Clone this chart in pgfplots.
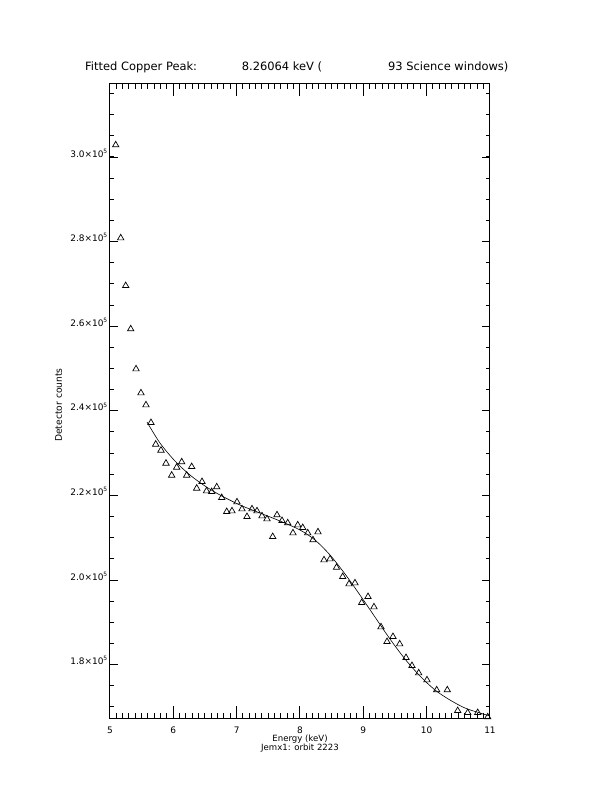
\documentclass[border=0pt]{standalone}
\usepackage{fontspec}
\setmainfont{DejaVu Sans}
\usepackage{pgfplots}
\pgfplotsset{compat=1.18}
\begin{document}
\begin{tikzpicture}
\path (-110bp,-74bp) rectangle (502bp,718bp);
\begin{axis}[at={(0bp,0bp)}, anchor=south west, scale only axis,
  width=380bp, height=634bp,
  xmin=5, xmax=11, ymin=1.6738, ymax=3.1726,
  xtick={5,6,7,8,9,10,11}, xticklabels={5,6,7,8,9,10,11},
  ytick={1.8,2.0,2.2,2.4,2.6,2.8,3.0},
  yticklabels={1.8×10\textsuperscript{5},2.0×10\textsuperscript{5},2.2×10\textsuperscript{5},2.4×10\textsuperscript{5},2.6×10\textsuperscript{5},2.8×10\textsuperscript{5},3.0×10\textsuperscript{5}},
  major tick length=0pt, minor tick num=0,
  axis line style={line width=1bp},
  xticklabel style={font=\fontsize{9}{10}\selectfont, anchor=north, inner sep=0pt, yshift=-9bp},
  yticklabel style={font=\fontsize{9}{10}\selectfont, anchor=base east, inner sep=0pt, xshift=-2bp},
  clip=false,
]
% tick marks (axis decoration)
\pgfplotsinvokeforeach{5.1,5.2,...,10.95}{
  \draw[line width=1bp] (axis cs:#1,1.6738) -- ++(0bp,5bp);
  \draw[line width=1bp] (axis cs:#1,3.1726) -- ++(0bp,-5bp);
}
\pgfplotsinvokeforeach{5,6,...,11}{
  \draw[line width=1bp] (axis cs:#1,1.6738) -- ++(0bp,12bp);
  \draw[line width=1bp] (axis cs:#1,3.1726) -- ++(0bp,-12bp);
}
\pgfplotsinvokeforeach{1.70,1.75,...,3.16}{
  \draw[line width=1bp] (axis cs:5,#1) -- ++(4bp,0bp);
  \draw[line width=1bp] (axis cs:11,#1) -- ++(-4bp,0bp);
}
\pgfplotsinvokeforeach{1.8,2.0,...,3.01}{
  \draw[line width=1bp] (axis cs:5,#1) -- ++(7.6bp,0bp);
  \draw[line width=1bp] (axis cs:11,#1) -- ++(-7.6bp,0bp);
}
\addplot[smooth, line width=0.6bp, black] coordinates {
(5.584,2.3735) (5.789,2.3239) (6.026,2.2813) (6.263,2.2482) (6.5,2.2222)
(6.737,2.2009) (7.053,2.1773) (7.368,2.1584) (7.684,2.1395) (8.0,2.1182)
(8.237,2.0946) (8.474,2.0591) (8.711,2.0142) (8.947,1.9645) (9.184,1.9125)
(9.421,1.8605) (9.658,1.8132) (9.895,1.7730) (10.132,1.7400) (10.368,1.7163)
(10.605,1.6974) (10.842,1.6856) (11.0,1.6785)
};
\addplot[only marks, mark=triangle, mark size=3.7bp, mark options={line width=0.7bp, black}] coordinates {
(5.090,3.0284) (5.169,2.8085) (5.248,2.6957) (5.327,2.5934) (5.411,2.4988)
(5.489,2.4421) (5.568,2.4137) (5.647,2.3719) (5.722,2.3208) (5.805,2.3066)
(5.884,2.2759) (5.974,2.2475) (6.053,2.2664) (6.132,2.2790) (6.211,2.2475)
(6.290,2.2678) (6.369,2.2168) (6.453,2.2324) (6.524,2.2104) (6.606,2.2087)
(6.685,2.2199) (6.764,2.1946) (6.843,2.1615) (6.926,2.1631) (7.005,2.1844)
(7.084,2.1678) (7.163,2.1496) (7.242,2.1678) (7.321,2.1631) (7.400,2.1513)
(7.479,2.1442) (7.569,2.1024) (7.637,2.1537) (7.716,2.1402) (7.806,2.1348)
(7.889,2.1111) (7.964,2.1300) (8.043,2.1236) (8.122,2.1111) (8.205,2.0946)
(8.284,2.1135) (8.379,2.0473) (8.474,2.0496) (8.576,2.0296) (8.674,2.0078)
(8.774,1.9905) (8.868,1.9929) (8.974,1.9463) (9.074,1.9605) (9.168,1.9362)
(9.279,1.8889) (9.374,1.8541) (9.468,1.8660) (9.574,1.8487) (9.674,1.8163)
(9.768,1.7974) (9.874,1.7801) (10.005,1.7636) (10.158,1.7400) (10.326,1.7400)
(10.490,1.6910) (10.648,1.6863) (10.806,1.6863) (10.964,1.6761)
};
\end{axis}
\begin{scope}[every node/.style={inner sep=0pt}]
\node[anchor=base west, font=\fontsize{11.5}{13}\selectfont] at (-25bp,647bp) {Fitted Copper Peak:};
\node[anchor=base west, font=\fontsize{11.5}{13}\selectfont] at (131.7bp,647bp) {8.26064 keV (};
\node[anchor=base west, font=\fontsize{11.5}{13}\selectfont] at (278bp,647bp) {93 Science windows)};
\node[anchor=base, font=\fontsize{8.6}{10}\selectfont] at (190bp,-23.5bp) {Energy (keV)};
\node[anchor=base, font=\fontsize{8.6}{10}\selectfont] at (190bp,-32.5bp) {Jemx1: orbit 2223};
\node[anchor=base, rotate=90, font=\fontsize{9.2}{10}\selectfont] at (-48bp,313bp) {Detector counts};
\end{scope}
\end{tikzpicture}
\end{document}
